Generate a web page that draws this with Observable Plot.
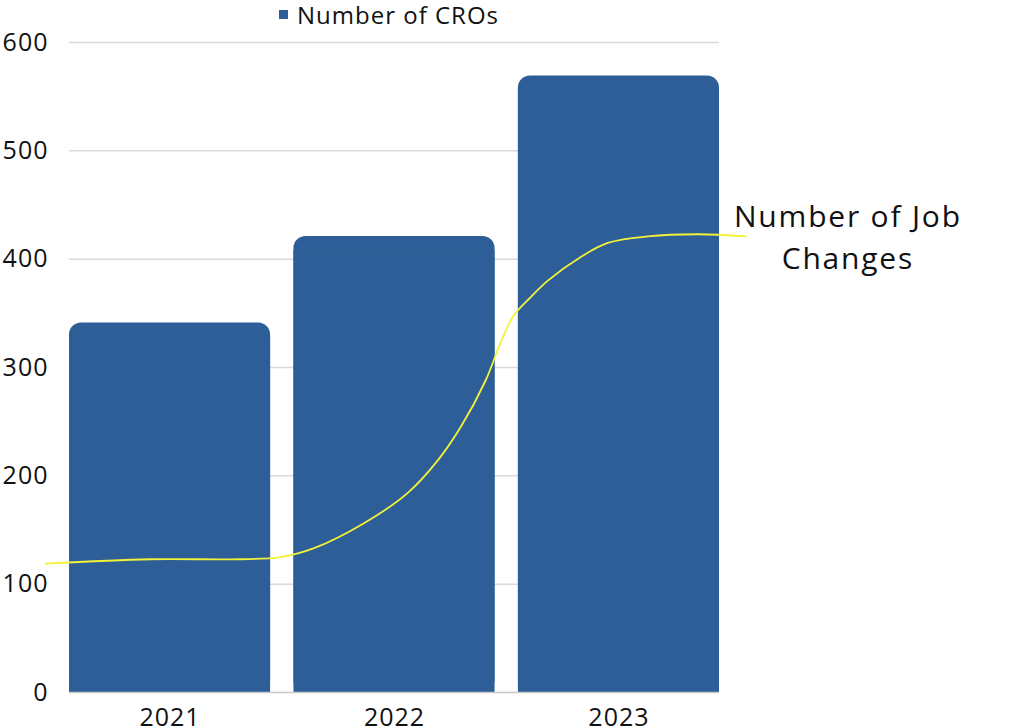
<!DOCTYPE html>
<html>
<head>
<meta charset="utf-8">
<script src="https://cdn.jsdelivr.net/npm/d3@7"></script>
<script src="https://cdn.jsdelivr.net/npm/@observablehq/plot@0.6"></script>
<style>
  html, body { margin: 0; padding: 0; background: #fff; }
  body { width: 1024px; height: 728px; overflow: hidden; font-family: "Open Sans", sans-serif; }
  #legend { position: relative; height: 28px; }
  #legend .sw { position: absolute; left: 279px; top: 10px; width: 9px; height: 9px; background: #2e5e97; }
  #legend .lb { position: absolute; left: 297px; top: 1px; font-size: 24px; line-height: 28px; letter-spacing: 1px; color: #111; white-space: nowrap; }
  #chart svg { display: block; }
</style>
</head>
<body>
<div id="legend"><span class="sw"></span><span class="lb">Number of CROs</span></div>
<div id="chart"></div>
<script>
// Bar series: Number of CROs
const years = [2021, 2022, 2023];
const cros = [341, 421, 569];

// Hand-drawn curve: Number of Job Changes (x as fractional year position, y as value)
const jobX = [2020.445, 2020.913, 2021.314, 2021.492, 2021.639, 2021.862, 2022.058, 2022.192, 2022.295, 2022.406, 2022.473, 2022.531, 2022.607, 2022.682, 2022.830, 2022.950, 2023.128, 2023.351, 2023.565];
const jobY = [119, 123, 123, 125, 133, 156, 184, 214, 245, 288, 323, 348, 365, 380, 402, 415, 421, 423, 421];

const yTicks = [0, 100, 200, 300, 400, 500, 600];
const seriesLabel = "Number of CROs";
const curveLabel = "Number of Job\nChanges";
const curveLabelPos = {x: 2024.02, y: 423};

const bars = years.map((y, i) => ({year: y, value: cros[i]}));
const curve = jobX.map((x, i) => ({x, y: jobY[i]}));

const barColor = "#2e5e97";
const half = 0.448;

const chart = Plot.plot({
  width: 1024,
  height: 700,
  marginLeft: 69,
  marginRight: 305,
  marginTop: 14,
  marginBottom: 36,
  style: {fontFamily: "'Open Sans', sans-serif", fontSize: "25px", color: "#111", background: "#fff", overflow: "visible", letterSpacing: "1px"},
  x: {type: "linear", domain: [2021 - half, 2023 + half]},
  y: {domain: [0, 600]},
  marks: [
    Plot.gridY(yTicks.filter(d => d > 0), {stroke: "#d9d9d9", strokeOpacity: 1, strokeWidth: 1.5}),
    Plot.rectY(bars, {x1: d => d.year - half, x2: d => d.year + half, y: "value", fill: barColor, rx: 12}),
    Plot.rectY(bars, {x1: d => d.year - half, x2: d => d.year + half, y: "value", fill: barColor, insetTop: 14}),
    Plot.ruleY([0], {stroke: "#c8c8c8", strokeWidth: 1.5}),
    Plot.axisY({ticks: yTicks, tickSize: 0, tickPadding: 21, label: null, fontSize: 25, tickFormat: d => String(d)}),
    Plot.axisX({ticks: years, tickSize: 0, tickPadding: 16, label: null, fontSize: 25, tickFormat: d => String(d)}),
    Plot.line(curve, {x: "x", y: "y", stroke: "#f2f23a", strokeWidth: 1.8, curve: "catmull-rom"}),
    Plot.text([curveLabel], {x: () => curveLabelPos.x, y: () => curveLabelPos.y, text: d => d, fontSize: 30, lineHeight: 1.43, fill: "#111", textAnchor: "middle"})
  ]
});
d3.select(chart).selectAll('g[font-size="30"]').style("letter-spacing", "1.8px");
document.getElementById("chart").appendChild(chart);
</script>
</body>
</html>
